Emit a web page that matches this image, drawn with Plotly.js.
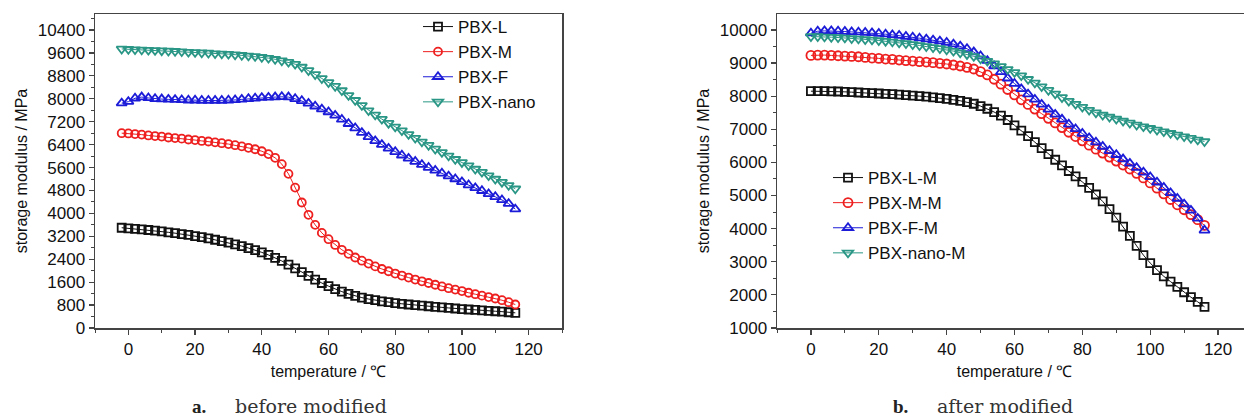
<!DOCTYPE html>
<html>
<head>
<meta charset="utf-8">
<script src="https://cdn.plot.ly/plotly-3.0.1.min.js"></script>
<style>
html,body{margin:0;padding:0;background:#fff;overflow:hidden;}
#chart{width:1260px;height:420px;}
</style>
</head>
<body>
<div id="chart"></div>
<script>
// ---------- data: panel a (before modified) ----------
const tempA = [-2,0,2,4,6,8,10,12,14,16,18,20,22,24,26,28,30,32,34,36,38,40,42,44,46,48,50,52,54,56,58,60,62,64,66,68,70,72,74,76,78,80,82,84,86,88,90,92,94,96,98,100,102,104,106,108,110,112,114,116];
const pbxL = [3500,3480,3460,3440,3420,3400,3370,3340,3310,3280,3250,3210,3170,3130,3080,3030,2980,2920,2860,2790,2720,2640,2550,2450,2340,2210,2080,1950,1820,1690,1570,1460,1360,1270,1190,1120,1060,1010,970,930,900,870,845,820,800,780,760,740,720,700,680,660,645,630,615,600,585,570,550,530];
const pbxM = [6800,6790,6770,6750,6720,6700,6680,6650,6630,6610,6580,6560,6530,6510,6480,6450,6420,6380,6340,6290,6240,6170,6070,5940,5720,5380,4900,4380,3950,3600,3320,3100,2900,2730,2590,2460,2350,2250,2150,2060,1980,1900,1830,1760,1690,1630,1570,1510,1450,1390,1340,1290,1230,1180,1130,1080,1030,970,900,820];
const pbxF = [7850,7900,8020,8060,8030,8000,7990,7980,7970,7960,7950,7950,7940,7940,7940,7940,7950,7960,7980,8000,8020,8040,8050,8060,8070,8060,8000,7930,7840,7740,7640,7540,7420,7280,7130,6980,6820,6670,6530,6400,6270,6150,6030,5920,5810,5700,5600,5500,5400,5300,5200,5100,4990,4890,4790,4680,4580,4470,4340,4150];
const pbxNano = [9740,9730,9720,9710,9700,9690,9680,9670,9660,9650,9630,9620,9610,9600,9580,9570,9560,9540,9520,9500,9480,9450,9420,9380,9330,9280,9210,9110,8990,8850,8710,8570,8440,8290,8120,7950,7770,7590,7440,7290,7150,7020,6890,6760,6630,6500,6380,6250,6130,6010,5890,5780,5670,5550,5440,5320,5200,5090,4980,4860];

// ---------- data: panel b (after modified) ----------
const tempB = [0,2,4,6,8,10,12,14,16,18,20,22,24,26,28,30,32,34,36,38,40,42,44,46,48,50,52,54,56,58,60,62,64,66,68,70,72,74,76,78,80,82,84,86,88,90,92,94,96,98,100,102,104,106,108,110,112,114,116];
const pbxLM = [8150,8150,8150,8145,8140,8130,8120,8110,8100,8090,8080,8070,8060,8045,8030,8015,8000,7985,7965,7940,7915,7890,7860,7820,7770,7700,7620,7520,7410,7280,7120,6960,6790,6610,6430,6250,6080,5910,5740,5580,5410,5230,5030,4820,4590,4330,4060,3780,3480,3200,2960,2750,2560,2400,2240,2080,1930,1790,1640];
const pbxMM = [9230,9240,9240,9230,9220,9210,9200,9190,9170,9150,9140,9120,9110,9090,9070,9060,9040,9030,9010,8990,8970,8940,8910,8870,8820,8740,8640,8510,8360,8200,8040,7890,7750,7610,7470,7330,7190,7050,6910,6780,6650,6520,6400,6280,6160,6040,5920,5800,5670,5530,5380,5220,5050,4880,4720,4570,4420,4270,4100];
const pbxFM = [9900,9960,9970,9970,9960,9950,9940,9930,9920,9910,9890,9870,9850,9830,9800,9780,9750,9720,9690,9660,9620,9570,9510,9430,9330,9210,9070,8910,8730,8540,8380,8220,8060,7900,7750,7600,7450,7300,7150,7010,6870,6740,6610,6480,6350,6230,6100,5970,5840,5700,5560,5400,5240,5080,4910,4740,4550,4310,3950];
const pbxNanoM = [9800,9800,9790,9780,9770,9760,9740,9730,9710,9700,9680,9660,9640,9610,9590,9560,9530,9500,9470,9440,9400,9360,9310,9260,9200,9130,9060,8980,8900,8810,8720,8620,8510,8400,8290,8180,8070,7960,7850,7760,7670,7580,7500,7430,7370,7310,7250,7190,7130,7080,7030,6980,6930,6880,6830,6780,6730,6680,6630];

const namesA = ['PBX-L','PBX-M','PBX-F','PBX-nano'];
const namesB = ['PBX-L-M','PBX-M-M','PBX-F-M','PBX-nano-M'];
const colors = ['#111111','#ee1f1f','#1c1cd8','#2a9685'];
const symbols = ['square-open','circle-open','triangle-up-open','triangle-down-open'];

const seriesA = [pbxL, pbxM, pbxF, pbxNano];
const seriesB = [pbxLM, pbxMM, pbxFM, pbxNanoM];
const sizesA = [8,8,9,9];
const sizesB = [8,9,9,9];

const traces = [];
seriesA.forEach((ys,i)=>{
  traces.push({x:tempA, y:ys, name:namesA[i], type:'scatter', mode:'lines+markers',
    xaxis:'x', yaxis:'y', legend:'legend',
    line:{color:colors[i], width:1},
    marker:{symbol:symbols[i], size:sizesA[i], color:colors[i], line:{color:colors[i], width:1.8}}});
});
seriesB.forEach((ys,i)=>{
  traces.push({x:tempB, y:ys, name:namesB[i], type:'scatter', mode:'lines+markers',
    xaxis:'x2', yaxis:'y2', legend:'legend2',
    line:{color:colors[i], width:1},
    marker:{symbol:symbols[i], size:sizesB[i], color:colors[i], line:{color:colors[i], width:1.8}}});
});

const W = 1260, H = 420;
const FAM = 'Liberation Sans, Arial, sans-serif';
const tickFont = {family:FAM, size:17, color:'#111'};
const titleFont = {family:FAM, size:16, color:'#111'};
const axisCommon = {
  showgrid:false, zeroline:false, showline:true, linecolor:'#444', linewidth:1.5, mirror:true,
  ticks:'outside', ticklen:5, tickwidth:1.2, tickcolor:'#444', tickfont:tickFont, tickformat:'d',
};
const xCommon = Object.assign({}, axisCommon, {
  range:[-10,130], tickmode:'linear', tick0:0, dtick:20,
  minor:{ticks:'outside', ticklen:3, tickwidth:1, tickcolor:'#444', dtick:10, tick0:0},
  title:{text:'temperature / ℃', font:titleFont, standoff:8}
});
const yDom = [92/H, 406/H];
const capY = (H-406)/H;

const layout = {
  width:W, height:H, margin:{l:0,r:0,t:0,b:0}, paper_bgcolor:'#fff', plot_bgcolor:'#fff',
  showlegend:true,
  xaxis: Object.assign({}, xCommon, {domain:[95/W, 562/W], anchor:'y'}),
  yaxis: Object.assign({}, axisCommon, {domain:yDom, anchor:'x', range:[0,10960],
    tickmode:'linear', tick0:0, dtick:800,
    minor:{ticks:'outside', ticklen:3, tickwidth:1, tickcolor:'#444', dtick:400, tick0:0},
    title:{text:'storage modulus / MPa', font:titleFont, standoff:6}}),
  xaxis2: Object.assign({}, xCommon, {domain:[777/W, 1252/W], anchor:'y2'}),
  yaxis2: Object.assign({}, axisCommon, {domain:yDom, anchor:'x2', range:[1000,10480],
    tickmode:'linear', tick0:1000, dtick:1000,
    minor:{ticks:'outside', ticklen:3, tickwidth:1, tickcolor:'#444', dtick:500, tick0:1000},
    title:{text:'storage modulus / MPa', font:titleFont, standoff:6}}),
  legend:{x:418/W, y:(H-9)/H, xanchor:'left', yanchor:'top', bgcolor:'rgba(0,0,0,0)',
    font:{family:FAM, size:17, color:'#111'}, tracegroupgap:0},
  legend2:{x:828/W, y:(H-160)/H, xanchor:'left', yanchor:'top', bgcolor:'rgba(0,0,0,0)',
    font:{family:FAM, size:17, color:'#111'}, tracegroupgap:0},
  annotations:[
    {xref:'paper', yref:'paper', x:190/W, y:capY, xanchor:'left', yanchor:'middle', showarrow:false,
     text:'<b>a.</b>', font:{family:'Liberation Serif, DejaVu Serif, serif', size:19, color:'#222'}},
    {xref:'paper', yref:'paper', x:233/W, y:capY, xanchor:'left', yanchor:'middle', showarrow:false,
     text:'before modified', font:{family:'DejaVu Serif, Liberation Serif, serif', size:19, color:'#333'}},
    {xref:'paper', yref:'paper', x:891/W, y:capY, xanchor:'left', yanchor:'middle', showarrow:false,
     text:'<b>b.</b>', font:{family:'Liberation Serif, DejaVu Serif, serif', size:19, color:'#222'}},
    {xref:'paper', yref:'paper', x:935/W, y:capY, xanchor:'left', yanchor:'middle', showarrow:false,
     text:'after modified', font:{family:'DejaVu Serif, Liberation Serif, serif', size:19, color:'#333'}}
  ]
};

Plotly.newPlot('chart', traces, layout, {displayModeBar:false, staticPlot:true});
</script>
</body>
</html>
